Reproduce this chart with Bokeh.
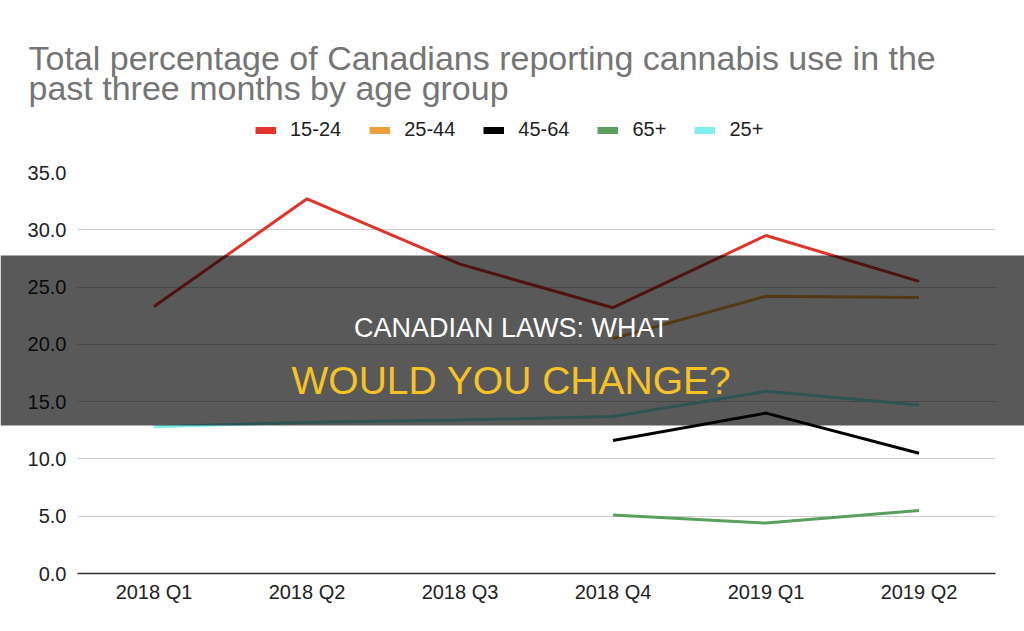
import numpy as np
from bokeh.plotting import figure
from bokeh.layouts import column
from bokeh.models import (FactorRange, Range1d, FixedTicker, NumeralTickFormatter,
                          Legend, LegendItem, Label, BoxAnnotation, ColumnDataSource, GridBox)
from bokeh.embed import file_html
from bokeh.resources import INLINE

nan = np.nan
quarters = ["2018 Q1", "2018 Q2", "2018 Q3", "2018 Q4", "2019 Q1", "2019 Q2"]
age_15_24 = [23.3, 32.7, 27.0, 23.2, 29.5, 25.5]
age_25_44 = [nan, nan, nan, 20.5, 24.2, 24.1]
age_45_64 = [nan, nan, nan, 11.6, 14.0, 10.5]
age_65_plus = [nan, nan, nan, 5.1, 4.4, 5.5]
age_25_plus = [12.8, 13.2, 13.4, 13.7, 15.9, 14.7]
y_ticks = [0, 5, 10, 15, 20, 25, 30, 35]

series_names = ["15-24", "25-44", "45-64", "65+", "25+"]
series_values = [age_15_24, age_25_44, age_45_64, age_65_plus, age_25_plus]
series_colors = ["#e0352b", "#eba03a", "#000000", "#5b9f5e", "#80eeee"]

title_lines = ["Total percentage of Canadians reporting cannabis use in the",
               "past three months by age group"]
headline_1 = "CANADIAN LAWS: WHAT"
headline_2 = "WOULD YOU CHANGE?"

FONT = "Liberation Sans"
W, H = 1024, 631
FL, FR, FT, FB = 77, 995, 172, 573  # frame edges on canvas

# ---------------- main chart ----------------
p = figure(width=W, height=H, output_backend="svg", toolbar_location=None,
           x_range=FactorRange(factors=quarters, range_padding=0),
           y_range=Range1d(0, 35),
           min_border_left=FL, min_border_right=W - FR,
           min_border_top=FT, min_border_bottom=H - FB,
           outline_line_color=None, background_fill_color="white",
           border_fill_color="white")

p.yaxis.ticker = FixedTicker(ticks=y_ticks)
p.yaxis.formatter = NumeralTickFormatter(format="0.0")
p.yaxis.axis_line_color = None
p.yaxis.major_tick_line_color = None
p.yaxis.minor_tick_line_color = None
p.yaxis.major_label_standoff = 5
p.yaxis.major_label_text_font = FONT
p.yaxis.major_label_text_font_size = "20px"
p.yaxis.major_label_text_color = "#222222"

p.xaxis.axis_line_color = "#333333"
p.xaxis.axis_line_width = 1.5
p.xaxis.major_tick_line_color = None
p.xaxis.minor_tick_line_color = None
p.xaxis.major_label_standoff = 1
p.xaxis.major_label_text_font = FONT
p.xaxis.major_label_text_font_size = "20px"
p.xaxis.major_label_text_color = "#222222"

p.xgrid.grid_line_color = None
p.ygrid.ticker = FixedTicker(ticks=y_ticks)
p.ygrid.grid_line_color = "#cccccc"
p.ygrid.grid_line_width = 1

for name, vals, col in zip(series_names, series_values, series_colors):
    src = ColumnDataSource(dict(x=quarters, y=vals))
    p.line("x", "y", source=src, line_color=col, line_width=3)

# ---------------- overlay (title, legend, dark band, headline) ----------------
ov = figure(width=W, height=H, output_backend="svg", toolbar_location=None,
            x_range=Range1d(0, 1), y_range=Range1d(0, 1),
            x_axis_type=None, y_axis_type=None,
            min_border=0, min_border_left=0, min_border_right=0,
            min_border_top=0, min_border_bottom=0,
            outline_line_color=None, background_fill_color=None,
            border_fill_color=None)
ov.xgrid.visible = False
ov.ygrid.visible = False

items = []
for name, col in zip(series_names, series_colors):
    sw = ColumnDataSource(dict(x=[0.5], y=[nan]))
    r_sw = ov.line("x", "y", source=sw, line_color=col, line_width=7)
    items.append(LegendItem(label=name, renderers=[r_sw]))

legend = Legend(items=items, orientation="horizontal",
                location=(255, H - 141),
                padding=0, margin=0, spacing=28, label_standoff=14,
                glyph_width=21, glyph_height=20, label_height=20,
                label_text_font=FONT, label_text_font_size="20px",
                label_text_color="#222222",
                border_line_color=None, background_fill_alpha=0)
ov.add_layout(legend, "center")

for txt, base in zip(title_lines, [57, 87]):
    ov.add_layout(Label(x=28, y=H - base, x_units="screen", y_units="screen",
                        text=txt, text_font=FONT, text_font_size="34px",
                        text_color="#757575", text_baseline="alphabetic"))

band = BoxAnnotation(left=0, right=W, top=H - 255, bottom=H - 425,
                     left_units="screen", right_units="screen",
                     top_units="screen", bottom_units="screen",
                     fill_color="black", fill_alpha=0.65, line_color=None,
                     level="overlay")
ov.add_layout(band)
ov.add_layout(Label(x=511, y=H - 327, x_units="screen", y_units="screen",
                    text=headline_1, text_font=FONT, text_font_size="27px",
                    text_color="white", text_align="center", text_baseline="alphabetic",
                    level="overlay"))
ov.add_layout(Label(x=511, y=H - 380, x_units="screen", y_units="screen",
                    text=headline_2, text_font=FONT, text_font_size="39px",
                    text_color="#f6c224", text_align="center", text_baseline="alphabetic",
                    level="overlay"))

page = GridBox(children=[(column(p), 0, 0), (column(ov), 0, 0)], width=W, height=H)

open("out.html", "w").write(file_html(page, INLINE))
